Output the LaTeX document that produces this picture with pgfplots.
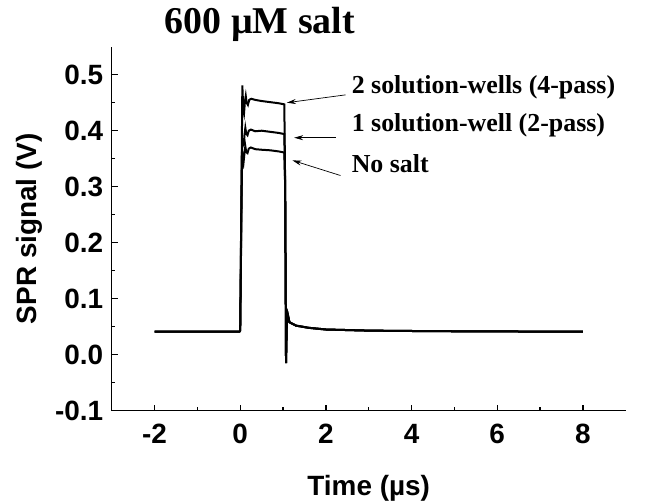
\documentclass[border=0pt]{standalone}
\usepackage{pgfplots}
\pgfplotsset{compat=1.18}
\usepackage{fontspec}
\setmainfont{Liberation Serif}
\newfontfamily\arial{Liberation Sans}
\usetikzlibrary{arrows.meta}

\pgfplotstableread{
x y
-2 0.041
-0.02 0.041
0.0 0.043
0.03 0.30
0.05 0.481
0.07 0.44
0.09 0.432
0.11 0.452
0.13 0.462
0.15 0.45
0.18 0.446
0.21 0.455
0.26 0.457
0.35 0.455
0.5 0.453
0.7 0.451
0.9 0.449
1.03 0.447
1.05 0.3
1.07 -0.015
1.09 0.06
1.11 0.072
1.15 0.058
1.3 0.052
1.6 0.048
2.0 0.045
3.0 0.043
4.5 0.042
8.0 0.041
}\topdata

\pgfplotstableread{
x y
-2 0.041
-0.02 0.041
0.0 0.043
0.04 0.36
0.06 0.385
0.08 0.372
0.10 0.392
0.12 0.405
0.14 0.395
0.17 0.392
0.20 0.400
0.25 0.402
0.35 0.399
0.5 0.400
0.7 0.398
0.9 0.396
1.03 0.394
1.05 0.3
1.07 -0.015
1.09 0.06
1.11 0.072
1.15 0.058
1.3 0.052
1.6 0.048
2.0 0.045
3.0 0.043
4.5 0.042
8.0 0.041
}\middata

\pgfplotstableread{
x y
-2 0.041
-0.02 0.041
0.0 0.043
0.04 0.33
0.06 0.355
0.08 0.345
0.10 0.360
0.12 0.372
0.14 0.362
0.17 0.360
0.20 0.368
0.25 0.370
0.35 0.367
0.5 0.366
0.7 0.365
0.9 0.363
1.03 0.361
1.05 0.3
1.07 -0.015
1.09 0.06
1.11 0.072
1.15 0.058
1.3 0.052
1.6 0.048
2.0 0.045
3.0 0.043
4.5 0.042
8.0 0.041
}\lowdata

\begin{document}
\begin{tikzpicture}
\useasboundingbox (-111.7bp,-93.3bp) rectangle (537.3bp,410.7bp);
\begin{axis}[
  scale only axis,
  width=514bp, height=364bp,
  at={(0,0)}, anchor=south west,
  xmin=-3, xmax=9, ymin=-0.1, ymax=0.55,
  axis x line*=bottom, axis y line*=left,
  axis line style={line width=1.3bp, -},
  every tick/.style={black, line width=1.3bp},
  tick align=inside,
  major tick length=6bp, minor tick length=3.5bp,
  xtick={-2,0,2,4,6,8},
  ytick={-0.1,0,0.1,0.2,0.3,0.4,0.5},
  minor x tick num=1, minor y tick num=1,
  /pgf/number format/assume math mode=true,
  yticklabel style={/pgf/number format/fixed, /pgf/number format/fixed zerofill, /pgf/number format/precision=1, xshift=-5bp},
  xticklabel style={yshift=-10bp},
  ticklabel style={font=\arial\bfseries\fontsize{28}{32}\selectfont},
  xlabel={Time (µs)},
  ylabel={SPR signal (V)},
  label style={font=\arial\bfseries\fontsize{28}{32}\selectfont},
  xlabel style={at={(axis description cs:0.5,-0.212)}, anchor=center},
  ylabel style={at={(axis description cs:-0.1595,0.5)}, anchor=center},
  clip=false,
]
\addplot[black, line width=2bp] table[x=x,y=y] {\lowdata};
\addplot[black, line width=2bp] table[x=x,y=y] {\middata};
\addplot[black, line width=2bp] table[x=x,y=y] {\topdata};

\draw[-{Stealth[length=9bp,width=5bp]}, line width=0.7bp] (axis cs:2.46,0.464) -- (axis cs:1.09,0.450);
\draw[-{Stealth[length=9bp,width=5bp]}, line width=0.7bp] (axis cs:2.23,0.3875) -- (axis cs:1.26,0.3875);
\draw[-{Stealth[length=9bp,width=5bp]}, line width=0.7bp] (axis cs:2.34,0.320) -- (axis cs:1.22,0.347);

\node[anchor=west, font=\bfseries\fontsize{26}{30}\selectfont, inner sep=0pt] at (axis cs:2.6,0.478) {2 solution-wells (4-pass)};
\node[anchor=west, font=\bfseries\fontsize{26}{30}\selectfont, inner sep=0pt] at (axis cs:2.6,0.410) {1 solution-well (2-pass)};
\node[anchor=west, font=\bfseries\fontsize{26}{30}\selectfont, inner sep=0pt] at (axis cs:2.6,0.342) {No salt};

\node[font=\bfseries\fontsize{38}{42}\selectfont, inner sep=0pt] at (axis cs:0.46,0.59) {600 µM salt};
\end{axis}
\end{tikzpicture}
\end{document}
